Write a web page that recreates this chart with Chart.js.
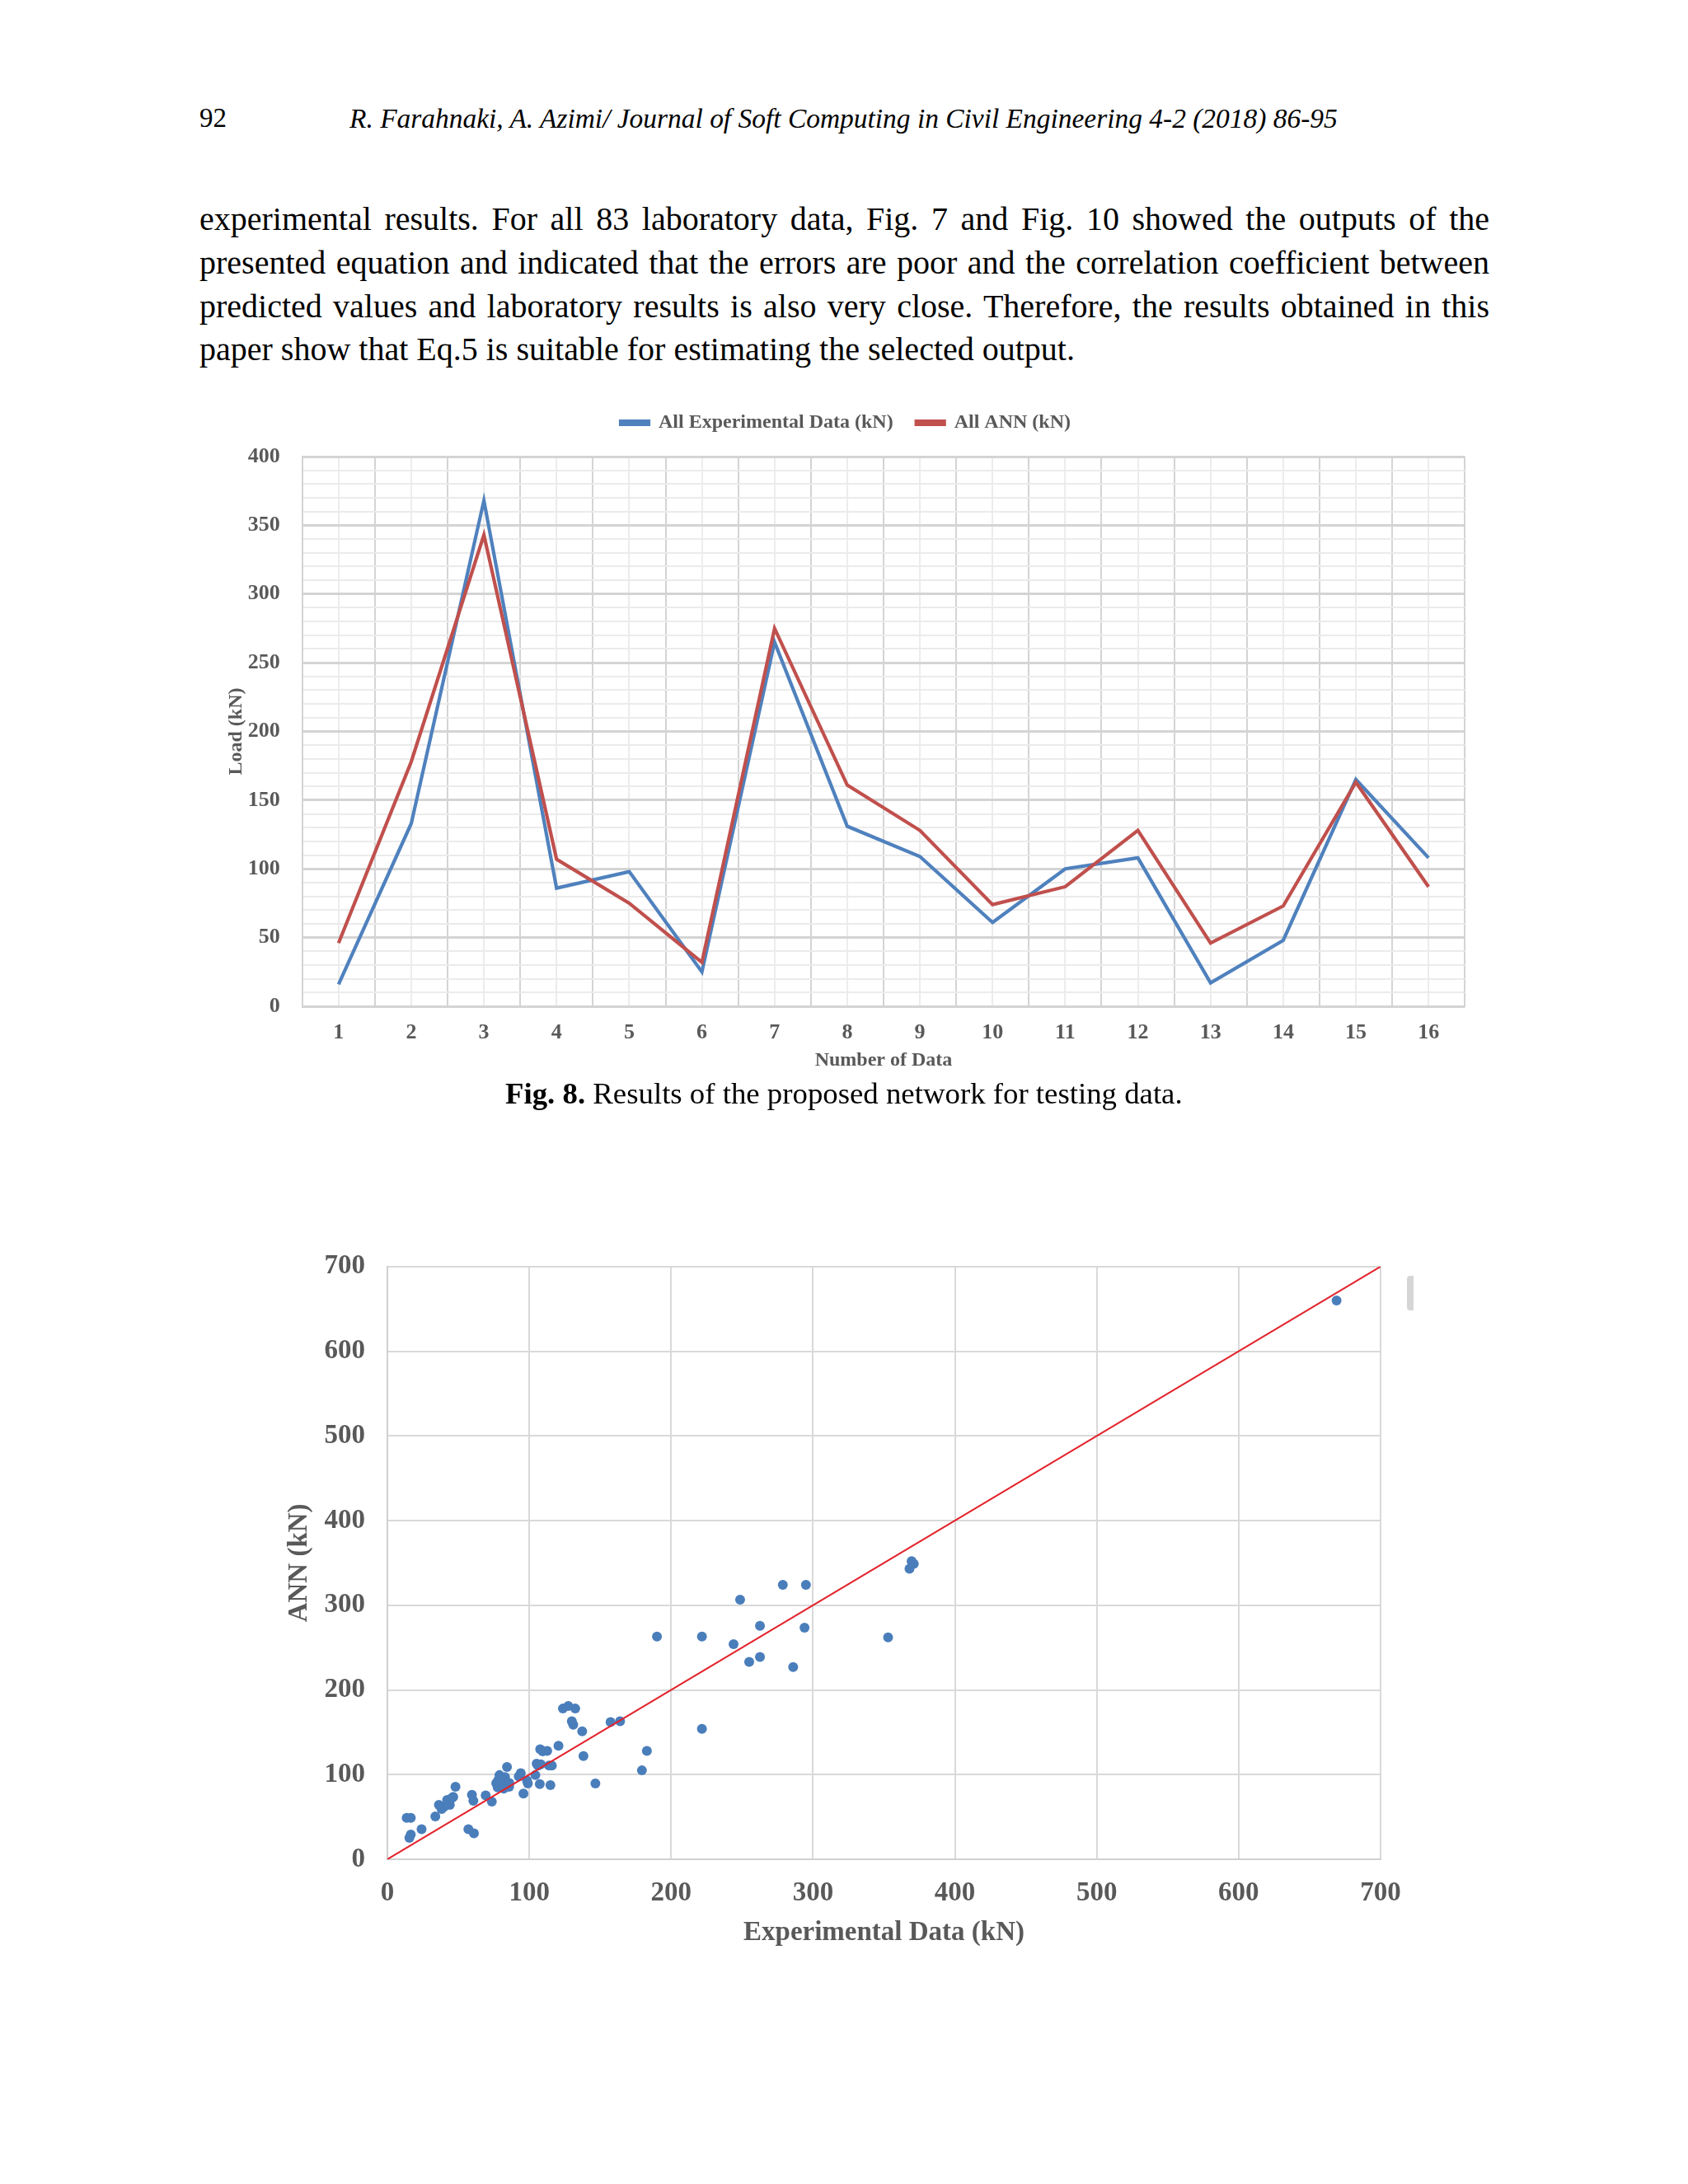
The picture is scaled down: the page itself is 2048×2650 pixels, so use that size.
<!DOCTYPE html>
<html>
<head>
<meta charset="utf-8">
<script src="https://cdn.jsdelivr.net/npm/chart.js@4.4.1/dist/chart.umd.min.js"></script>
<style>
html, body { margin: 0; padding: 0; background: #fff; }
#page { position: relative; width: 2048px; height: 2650px; overflow: hidden; font-family: "Liberation Serif", "Times New Roman", serif; color: #000; }
.t { position: absolute; white-space: nowrap; line-height: 1; }
.line { position: absolute; left: 242px; width: 1565px; font-size: 40px; line-height: 1; white-space: nowrap; text-align: justify; text-align-last: justify; }
.last { text-align: left; text-align-last: left; }
.box { position: absolute; }
#grip { position: absolute; left: 1707px; top: 1548px; width: 8px; height: 42px; background: #d6d6d6; border-radius: 4px 0 0 4px; }
</style>
</head>
<body>
<div id="page">
  <div class="t" style="left:242px; top:127px; font-size:33px;">92</div>
  <div class="t" data-w="1199" style="left:424px; top:127px; font-size:33px; font-style:italic;">R. Farahnaki, A. Azimi/ Journal of Soft Computing in Civil Engineering 4-2 (2018) 86-95</div>

  <div class="line" style="top:246px;">experimental results. For all 83 laboratory data, Fig. 7 and Fig. 10 showed the outputs of the</div>
  <div class="line" style="top:299px;">presented equation and indicated that the errors are poor and the correlation coefficient between</div>
  <div class="line" style="top:352px;">predicted values and laboratory results is also very close. Therefore, the results obtained in this</div>
  <div class="line last" style="top:404px;">paper show that Eq.5 is suitable for estimating the selected output.</div>

  <div class="box" style="left:200px; top:470px;"><canvas id="grafico1" width="1652" height="840" style="width:1652px;height:840px;"></canvas></div>

  <div class="t" data-w="822" style="left:613px; top:1309px; font-size:36px;"><b>Fig. 8.</b> Results of the proposed network for testing data.</div>

  <div class="box" style="left:300px; top:1490px;"><canvas id="grafico2" width="1450" height="880" style="width:1450px;height:880px;"></canvas></div>
  <div id="grip"></div>
</div>

<script>
// datos de la figura 8
const categorias = ['1', '2', '3', '4', '5', '6', '7', '8', '9', '10', '11', '12', '13', '14', '15', '16'];
const experimental = [16, 133, 368, 86, 98, 25, 265, 131, 109, 61, 100, 108, 17, 48, 165, 108];
const ann = [46, 178, 343, 107, 75, 32, 275, 161, 128, 74, 87, 128, 46, 73, 163, 87];
const rangoCarga = [0, 400];

// datos de la dispersion (experimental vs ANN)
const expData = [190, 221.7, 221.7, 123.7, 127.5, 132.4, 130, 131, 137.3, 157.3, 164, 182.9, 179.4, 138.2, 146.6,
  120.6, 107.7, 109.5, 112.6, 105.2, 114, 115.9, 104.3, 107.4, 114.9, 99, 95.9, 94, 92.6, 84.3,
  79, 82.9, 76.7, 77.7, 85.8, 81, 79, 82, 73.6, 69.3, 60.6, 59.6, 48, 46.4, 42.1,
  39.8, 36.3, 38.2, 33.8, 57.1, 61, 24.1, 16.5, 15.5, 13.6, 16.5, 44, 45.6, 93.6, 78,
  98.4, 108.1, 106.2, 83, 80, 86,
  669, 369.5, 371, 368, 278.7, 295, 248.6, 244, 262.6, 294, 352.9, 255, 262.6, 286];
const annData = [263, 263, 154, 178, 181, 178, 163, 159, 151, 162, 163, 128, 105, 122, 89.5,
  134, 130, 127.5, 128, 113, 110.6, 110.6, 99.4, 88.8, 87.6, 89.5, 77.7, 101.6, 97.8, 109,
  99.4, 97.2, 89.8, 85, 85.6, 87.2, 94, 83.4, 68.1, 75.4, 69, 76.1, 85.6, 73.8, 70,
  61.7, 64.2, 59.4, 50.5, 35.5, 30.7, 35.5, 29.1, 25.2, 48.9, 48.9, 64.2, 72.5, 99.4, 93,
  93, 112.2, 110.6, 90, 86, 90,
  660, 352, 349, 343, 324, 324, 306.5, 254, 275.7, 273.5, 262, 233, 239, 227];
const lineaIgualdad = [0, 700];
const rangoDispersion = [0, 700];

// ajustar ancho de algunos textos
document.querySelectorAll('[data-w]').forEach(function(el) {
    const objetivo = parseFloat(el.dataset.w);
    const fs = parseFloat(getComputedStyle(el).fontSize);
    const w = el.getBoundingClientRect().width;
    el.style.fontSize = (fs * objetivo / w) + 'px';
});

const fuente = '"Liberation Serif", "Times New Roman", serif';
const gris = '#595959';

function generarGrafico1() {
    const ctx = document.getElementById('grafico1').getContext('2d');
    new Chart(ctx, {
        type: 'line',
        data: {
            labels: categorias,
            datasets: [{
                label: 'All Experimental Data (kN)',
                data: experimental,
                borderColor: '#4F81BD',
                backgroundColor: '#4F81BD',
                borderWidth: 4.2,
                pointRadius: 0,
                tension: 0,
                xAxisID: 'x',
                order: 1
            }, {
                label: 'All ANN (kN)',
                data: ann,
                borderColor: '#C0504D',
                backgroundColor: '#C0504D',
                borderWidth: 4.2,
                pointRadius: 0,
                tension: 0,
                xAxisID: 'x',
                order: 0
            }]
        },
        options: {
            responsive: false,
            animation: false,
            devicePixelRatio: 1,
            layout: { padding: { top: 3, right: 74.7, bottom: 0, left: 74.7 } },
            plugins: {
                tooltip: { enabled: false },
                legend: {
                    position: 'top',
                    labels: {
                        boxWidth: 34,
                        boxHeight: 4,
                        padding: 28,
                        color: gris,
                        font: { family: fuente, size: 24, weight: 'bold' },
                        sort: function(a, b) { return a.datasetIndex - b.datasetIndex; }
                    }
                }
            },
            scales: {
                x: {
                    type: 'category',
                    offset: true,
                    grid: { offset: true, color: '#d4d4d4', lineWidth: 2, drawTicks: false },
                    border: { color: '#d4d4d4', width: 2 },
                    ticks: { padding: 17, color: gris, autoSkip: false, maxRotation: 0, font: { family: fuente, size: 26, weight: 'bold' } },
                    title: { display: true, text: 'Number of Data', color: gris, font: { family: fuente, size: 24, weight: 'bold' }, padding: { top: 0, bottom: 8.6 } },
                    afterFit: function(s) { s.height = 89; }
                },
                x2: {
                    type: 'category',
                    position: 'top',
                    offset: true,
                    grid: { offset: false, color: '#ececec', lineWidth: 2, drawTicks: false },
                    border: { display: false },
                    ticks: { display: false },
                    afterFit: function(s) { s.height = 19; }
                },
                y: {
                    min: rangoCarga[0],
                    max: rangoCarga[1],
                    grid: {
                        drawTicks: false,
                        color: function(c) { return c.tick && c.tick.value % 50 === 0 ? '#d4d4d4' : '#ebebeb'; },
                        lineWidth: function(c) { return c.tick && c.tick.value % 50 === 0 ? 3 : 2; }
                    },
                    border: { color: '#d4d4d4', width: 2 },
                    ticks: {
                        stepSize: 10,
                        autoSkip: false,
                        padding: 27,
                        color: gris,
                        font: { family: fuente, size: 26, weight: 'bold' },
                        callback: function(v) { return v % 50 === 0 ? v : ''; }
                    },
                    title: { display: true, text: 'Load (kN)', color: gris, font: { family: fuente, size: 24, weight: 'bold' }, padding: { top: -2.1, bottom: 0 } },
                    afterFit: function(s) { s.width = 92; }
                }
            }
        }
    });
}

function generarGrafico2() {
    const ctx = document.getElementById('grafico2').getContext('2d');
    const puntos = expData.map(function(x, i) { return { x: x, y: annData[i] }; });
    new Chart(ctx, {
        type: 'scatter',
        data: {
            datasets: [{
                type: 'line',
                data: lineaIgualdad.map(function(v) { return { x: v, y: v }; }),
                borderColor: '#E3232C',
                borderWidth: 2,
                pointRadius: 0,
                order: 0
            }, {
                type: 'scatter',
                data: puntos,
                backgroundColor: '#4A7EBB',
                borderWidth: 0,
                pointRadius: 6,
                order: 1
            }]
        },
        options: {
            responsive: false,
            animation: false,
            devicePixelRatio: 1,
            layout: { padding: { top: 38, right: 75, bottom: 0, left: 0 } },
            plugins: { legend: { display: false }, tooltip: { enabled: false } },
            scales: {
                x: {
                    type: 'linear',
                    min: rangoDispersion[0],
                    max: rangoDispersion[1],
                    grid: { color: '#d9d9d9', lineWidth: 2, drawTicks: false },
                    border: { color: '#d0d0d0', width: 2 },
                    ticks: { stepSize: 100, padding: 22, color: gris, font: { family: fuente, size: 33, weight: 'bold' } },
                    title: { display: true, text: 'Experimental Data (kN)', color: gris, font: { family: fuente, size: 33, weight: 'bold' }, padding: { top: 0, bottom: 5.2 } },
                    afterFit: function(s) { s.height = 114; }
                },
                y: {
                    min: rangoDispersion[0],
                    max: rangoDispersion[1],
                    grid: { color: '#d9d9d9', lineWidth: 2, drawTicks: false },
                    border: { color: '#d0d0d0', width: 2 },
                    ticks: { stepSize: 100, padding: 27, color: gris, font: { family: fuente, size: 33, weight: 'bold' } },
                    title: { display: true, text: 'ANN (kN)', color: gris, font: { family: fuente, size: 33, weight: 'bold' }, padding: { top: 43.2, bottom: 0 } },
                    afterFit: function(s) { s.width = 170; }
                }
            }
        }
    });
}

generarGrafico1();
generarGrafico2();
</script>
</body>
</html>
